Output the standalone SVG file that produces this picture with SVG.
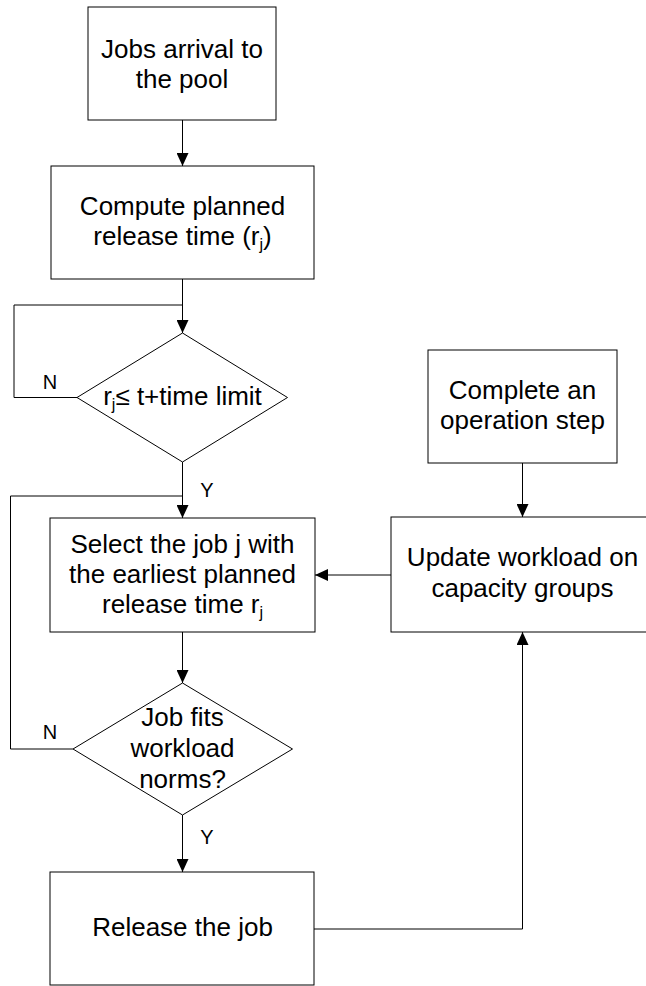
<svg xmlns="http://www.w3.org/2000/svg" width="646" height="986" viewBox="0 0 646 986">
  <style>
    .box { fill: #fff; stroke: #000; stroke-width: 1; }
    .lbl { font-family: "Liberation Sans", Arial, sans-serif; font-size: 26px; fill: #000; text-anchor: middle; }
    .yn { font-family: "Liberation Sans", Arial, sans-serif; font-size: 20px; fill: #000; text-anchor: middle; }
    .sub { font-size: 16px; }
    .wire { fill: none; stroke: #000; stroke-width: 1; }
  </style>
  <defs>
    <marker id="arrow" markerUnits="userSpaceOnUse" markerWidth="14" markerHeight="12" refX="13" refY="6" orient="auto">
      <path d="M0,0 L13,6 L0,12 z" fill="#000"/>
    </marker>
  </defs>
  <rect width="646" height="986" fill="#fff"/>

  <!-- connectors -->
  <g id="connectors">
    <path class="wire" d="M182.5,120 V166" marker-end="url(#arrow)"/>
    <path class="wire" d="M182.5,279 V333" marker-end="url(#arrow)"/>
    <path class="wire" d="M77,397.5 H14 V305 H182.5"/>
    <path class="wire" d="M182.5,462 V518" marker-end="url(#arrow)"/>
    <path class="wire" d="M182.5,632 V683" marker-end="url(#arrow)"/>
    <path class="wire" d="M73,749 H10.5 V496 H182.5"/>
    <path class="wire" d="M182.5,815 V872" marker-end="url(#arrow)"/>
    <path class="wire" d="M314,929 H522.5 V632" marker-end="url(#arrow)"/>
    <path class="wire" d="M522.5,463 V517" marker-end="url(#arrow)"/>
    <path class="wire" d="M391,575 H315" marker-end="url(#arrow)"/>
  </g>

  <g id="arrival">
    <rect class="box" x="88" y="7" width="188" height="113"/>
    <text class="lbl" x="182" y="58">Jobs arrival to</text>
    <text class="lbl" x="182" y="88">the pool</text>
  </g>

  <g id="compute">
    <rect class="box" x="51" y="166" width="263" height="113"/>
    <text class="lbl" x="182.5" y="215">Compute planned</text>
    <text class="lbl" x="182.5" y="245">release time (r<tspan class="sub" dy="5">j</tspan><tspan dy="-5">)</tspan></text>
  </g>

  <g id="check-time">
    <polygon class="box" points="182.5,333 287.5,397.5 182.5,462 77,397.5"/>
    <text class="lbl" x="182.5" y="405">r<tspan class="sub" dy="5">j</tspan><tspan dy="-5">≤ t+time limit</tspan></text>
    <text class="yn" x="50" y="389">N</text>
    <text class="yn" x="207" y="497">Y</text>
  </g>

  <g id="select">
    <rect class="box" x="50" y="518" width="265" height="114"/>
    <text class="lbl" x="182.5" y="553">Select the job j with</text>
    <text class="lbl" x="182.5" y="583">the earliest planned</text>
    <text class="lbl" x="182.5" y="613">release time r<tspan class="sub" dy="5">j</tspan></text>
  </g>

  <g id="check-norms">
    <polygon class="box" points="182.5,683 292.5,749 182.5,815 73,749"/>
    <text class="lbl" x="182.5" y="726">Job fits</text>
    <text class="lbl" x="182.5" y="757">workload</text>
    <text class="lbl" x="182.5" y="788">norms?</text>
    <text class="yn" x="50" y="739">N</text>
    <text class="yn" x="207" y="844">Y</text>
  </g>

  <g id="release">
    <rect class="box" x="50" y="872" width="264" height="113"/>
    <text class="lbl" x="182.5" y="936">Release the job</text>
  </g>

  <g id="complete-step">
    <rect class="box" x="428" y="350" width="189" height="113"/>
    <text class="lbl" x="522.5" y="399">Complete an</text>
    <text class="lbl" x="522.5" y="429">operation step</text>
  </g>

  <g id="update-workload">
    <rect class="box" x="391" y="517" width="263" height="115"/>
    <text class="lbl" x="522.5" y="566">Update workload on</text>
    <text class="lbl" x="522.5" y="597">capacity groups</text>
  </g>
</svg>
